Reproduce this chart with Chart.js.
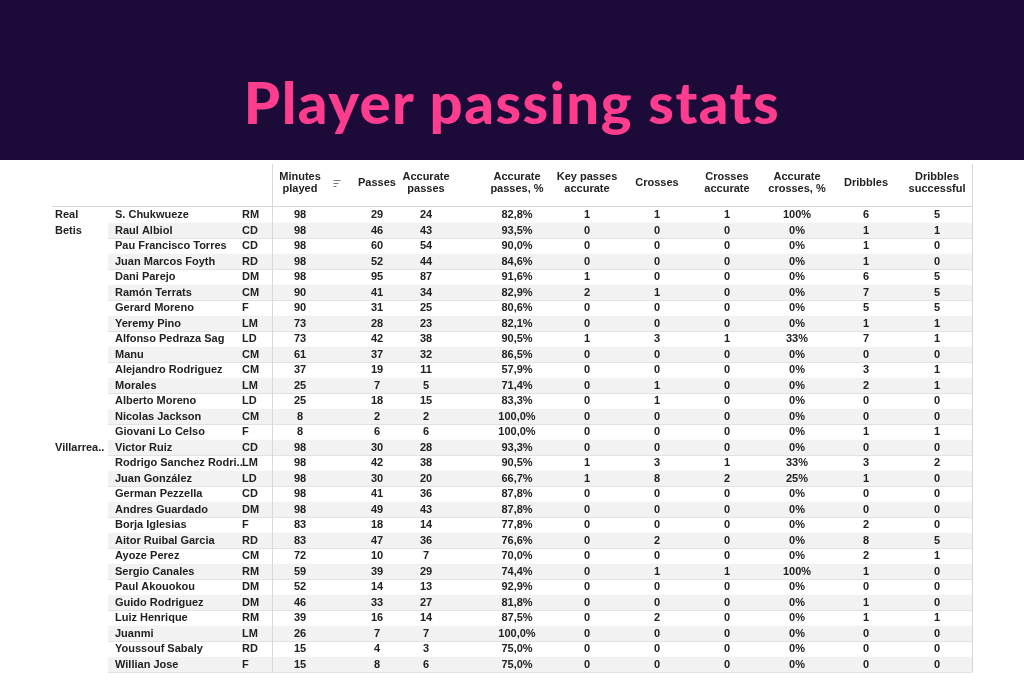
<!DOCTYPE html>
<html><head><meta charset="utf-8">
<script src="https://cdn.jsdelivr.net/npm/chart.js@4/dist/chart.umd.min.js"></script>
<style>
  body { margin:0; width:1024px; height:683px; overflow:hidden; background:#fff; font-family:'Liberation Sans',Arial,sans-serif; }
  #band { height:160px; background:#1c0a38; display:flex; align-items:center; justify-content:center; }
  #band h1 { margin:0; padding-top:42px; color:#ff3d8f; font-family:Lato,sans-serif; font-weight:900; font-size:58px; letter-spacing:1.5px; }
  #wrap { position:relative; width:1024px; height:523px; }
</style></head>
<body>
<div id="band"><h1>Player passing stats</h1></div>
<div id="wrap"><canvas id="tbl"></canvas></div>
<script>
// ── Data ────────────────────────────────────────────────────
const headers = [['Minutes','played'],['Passes'],['Accurate','passes'],['Accurate','passes, %'],['Key passes','accurate'],
  ['Crosses'],['Crosses','accurate'],['Accurate','crosses, %'],['Dribbles'],['Dribbles','successful']];
const teams = [{row:0, lines:['Real','Betis']}, {row:15, lines:['Villarrea..']}];
const players = ['S. Chukwueze','Raul Albiol','Pau Francisco Torres','Juan Marcos Foyth','Dani Parejo','Ramón Terrats',
  'Gerard Moreno','Yeremy Pino','Alfonso Pedraza Sag','Manu','Alejandro Rodriguez','Morales','Alberto Moreno',
  'Nicolas Jackson','Giovani Lo Celso','Victor Ruiz','Rodrigo Sanchez Rodri..','Juan González','German Pezzella',
  'Andres Guardado','Borja Iglesias','Aitor Ruibal Garcia','Ayoze Perez','Sergio Canales','Paul Akouokou',
  'Guido Rodriguez','Luiz Henrique','Juanmi','Youssouf Sabaly','Willian Jose'];
const positions = ['RM','CD','CD','RD','DM','CM','F','LM','LD','CM','CM','LM','LD','CM','F',
  'CD','LM','LD','CD','DM','F','RD','CM','RM','DM','DM','RM','LM','RD','F'];
const minutes   = [98,98,98,98,98,90,90,73,73,61,37,25,25,8,8, 98,98,98,98,98,83,83,72,59,52,46,39,26,15,15];
const passes    = [29,46,60,52,95,41,31,28,42,37,19,7,18,2,6, 30,42,30,41,49,18,47,10,39,14,33,16,7,4,8];
const accPasses = [24,43,54,44,87,34,25,23,38,32,11,5,15,2,6, 28,38,20,36,43,14,36,7,29,13,27,14,7,3,6];
const accPassPct= ['82,8%','93,5%','90,0%','84,6%','91,6%','82,9%','80,6%','82,1%','90,5%','86,5%','57,9%','71,4%','83,3%','100,0%','100,0%',
  '93,3%','90,5%','66,7%','87,8%','87,8%','77,8%','76,6%','70,0%','74,4%','92,9%','81,8%','87,5%','100,0%','75,0%','75,0%'];
const keyPasses = [1,0,0,0,1,2,0,0,1,0,0,0,0,0,0, 0,1,1,0,0,0,0,0,0,0,0,0,0,0,0];
const crosses   = [1,0,0,0,0,1,0,0,3,0,0,1,1,0,0, 0,3,8,0,0,0,2,0,1,0,0,2,0,0,0];
const accCrosses= [1,0,0,0,0,0,0,0,1,0,0,0,0,0,0, 0,1,2,0,0,0,0,0,1,0,0,0,0,0,0];
const accCrossPct=['100%','0%','0%','0%','0%','0%','0%','0%','33%','0%','0%','0%','0%','0%','0%',
  '0%','33%','25%','0%','0%','0%','0%','0%','100%','0%','0%','0%','0%','0%','0%'];
const dribbles  = [6,1,1,1,6,7,5,1,7,0,3,2,0,0,1, 0,3,1,0,0,2,8,2,1,0,1,1,0,0,0];
const dribblesOk= [5,1,0,0,5,5,5,1,1,0,1,1,0,0,1, 0,2,0,0,0,0,5,1,0,0,0,1,0,0,0];
const valueCols = [minutes,passes,accPasses,accPassPct,keyPasses,crosses,accCrosses,accCrossPct,dribbles,dribblesOk];

// ── Layout (pixels on the x scale, rows on the y scale) ─────
const COL_X = [300,377,426,517,587,657,727,797,866,937];
const TEAM_X = 55, NAME_X = 115, POS_X = 242, DIV_X = 272, RIGHT_X = 972, LEFT_X = 52;
const ROW_H = 15.5, FIRST_ROW_Y = 55;
const HEADER_ROW = -2.06;

const tablePlugin = {
  id: 'tablePlugin',
  beforeDatasetsDraw(chart) {
    const {ctx, scales:{x, y}} = chart;
    const rowTop = i => y.getPixelForValue(i - 0.5);
    const rowBot = i => y.getPixelForValue(i + 0.5);
    ctx.save();
    // stripes + separators
    players.forEach((_, i) => {
      const t = rowTop(i), b = rowBot(i);
      if (i % 2 === 1) { ctx.fillStyle = '#f2f2f2'; ctx.fillRect(x.getPixelForValue(108), t, x.getPixelForValue(RIGHT_X) - x.getPixelForValue(108), b - t); }
      ctx.strokeStyle = '#e2e2e2'; ctx.lineWidth = 1;
      ctx.beginPath(); ctx.moveTo(x.getPixelForValue(108), Math.round(b) + 0.5); ctx.lineTo(x.getPixelForValue(RIGHT_X), Math.round(b) + 0.5); ctx.stroke();
    });
    // header bottom line and verticals
    ctx.strokeStyle = '#d8d8d8';
    const hb = Math.round(rowTop(0)) - 0.5;
    ctx.beginPath(); ctx.moveTo(x.getPixelForValue(LEFT_X), hb); ctx.lineTo(x.getPixelForValue(RIGHT_X), hb); ctx.stroke();
    [DIV_X, RIGHT_X].forEach(vx => {
      const px = Math.round(x.getPixelForValue(vx)) + 0.5;
      ctx.beginPath(); ctx.moveTo(px, y.getPixelForValue(-3.3)); ctx.lineTo(px, rowBot(players.length - 1)); ctx.stroke();
    });
    // headers
    ctx.fillStyle = '#222'; ctx.font = 'bold 11px "Liberation Sans", Arial, sans-serif';
    ctx.textAlign = 'center'; ctx.textBaseline = 'middle';
    const hy = y.getPixelForValue(HEADER_ROW);
    headers.forEach((h, c) => {
      h.forEach((ln, k) => ctx.fillText(ln, x.getPixelForValue(COL_X[c]), hy + (k - (h.length - 1) / 2) * 12.5));
    });
    // sort icon next to "Minutes played"
    ctx.strokeStyle = '#777'; ctx.lineWidth = 1;
    const sx = x.getPixelForValue(337);
    [[0,7],[1,5],[2,3]].forEach(([k,w]) => {
      ctx.beginPath(); ctx.moveTo(sx - 3.5, Math.round(hy - 3 + k * 3) + 0.5); ctx.lineTo(sx - 3.5 + w, Math.round(hy - 3 + k * 3) + 0.5); ctx.stroke();
    });
    // teams
    ctx.textAlign = 'left';
    teams.forEach(t => t.lines.forEach((ln, k) => ctx.fillText(ln, x.getPixelForValue(TEAM_X), y.getPixelForValue(t.row + k))));
    // rows
    players.forEach((p, i) => {
      const py = y.getPixelForValue(i);
      ctx.textAlign = 'left';
      ctx.fillText(p, x.getPixelForValue(NAME_X), py);
      ctx.fillText(positions[i], x.getPixelForValue(POS_X), py);
      ctx.textAlign = 'center';
      valueCols.forEach((col, c) => ctx.fillText(String(col[i]), x.getPixelForValue(COL_X[c]), py));
    });
    ctx.restore();
  }
};

new Chart(document.getElementById('tbl'), {
  type: 'scatter',
  data: { datasets: [{ data: players.map((_, i) => ({x: COL_X[0], y: i})), pointRadius: 0 }] },
  options: {
    responsive: true, maintainAspectRatio: false, animation: false,
    layout: { padding: 0 },
    plugins: { legend: { display: false }, tooltip: { enabled: false } },
    scales: {
      x: { type: 'linear', min: 0, max: 1024, display: false },
      y: { type: 'linear', min: -FIRST_ROW_Y / ROW_H, max: (523 - FIRST_ROW_Y) / ROW_H, reverse: true, display: false },
    },
  },
  plugins: [tablePlugin]
});
</script>
</body></html>
